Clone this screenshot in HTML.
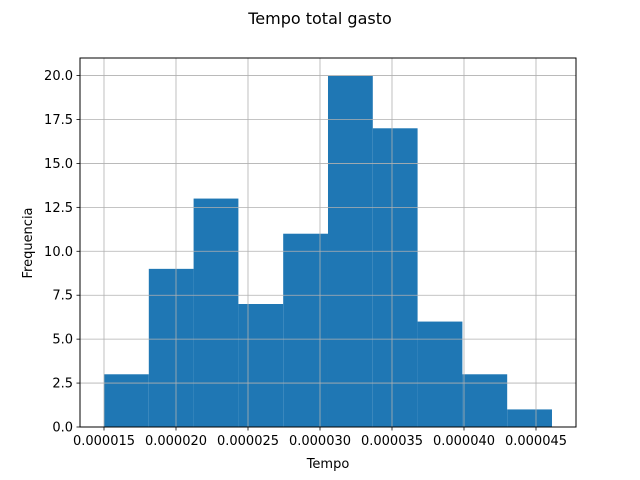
<!DOCTYPE html>
<html><head><meta charset="utf-8"><style>
body{margin:0;background:#fff}
svg{display:block;font-family:"DejaVu Sans","Liberation Sans",sans-serif}
</style></head><body>
<svg id="chart" width="640" height="480" xmlns="http://www.w3.org/2000/svg">
<rect width="640" height="480" fill="#fff"/>
<text x="320" y="24" font-size="16" text-anchor="middle">Tempo total gasto</text>
<text x="328" y="468" font-size="13" text-anchor="middle">Tempo</text>
<text x="32" y="243" font-size="13" text-anchor="middle" transform="rotate(-90 32 243)">Frequencia</text>
<g id="bars"></g><g id="grid"></g><g id="axes"></g>
</svg>
<script>
const binStart = 0.000015;
const binEnd = 0.00004611;
const counts = [3, 9, 13, 7, 11, 20, 17, 6, 3, 1];
const xTicks = [0.000015, 0.000020, 0.000025, 0.000030, 0.000035, 0.000040, 0.000045];
const xTickLabels = ["0.000015","0.000020","0.000025","0.000030","0.000035","0.000040","0.000045"];
const yTicks = [0, 2.5, 5, 7.5, 10, 12.5, 15, 17.5, 20];
const yTickLabels = ["0.0","2.5","5.0","7.5","10.0","12.5","15.0","17.5","20.0"];

const L=80,R=576,T=58,B=427;
const x = v => 104 + (v-0.000015)/0.000005*72;
const y = v => B - v/21*(B-T);
const NS="http://www.w3.org/2000/svg";
function mk(tag, attrs, parent){const e=document.createElementNS(NS,tag);for(const k in attrs)e.setAttribute(k,attrs[k]);parent.appendChild(e);return e;}
const bars=document.getElementById('bars'),grid=document.getElementById('grid'),axes=document.getElementById('axes');
const w=(binEnd-binStart)/counts.length;
counts.forEach((c,i)=>{
  const x0=x(binStart+i*w),x1=x(binStart+(i+1)*w);
  const r=mk('rect',{x:x0,y:y(c),width:x1-x0,height:B-y(c),fill:'#1f77b4'},bars);
  
  
});
xTicks.forEach((t,i)=>{
  const px=x(t);
  const g=mk('line',{x1:px,x2:px,y1:T,y2:B,stroke:'#b0b0b0','stroke-width':0.8},grid);
  
  
  mk('line',{x1:px,x2:px,y1:B,y2:B+3.5,stroke:'#000','stroke-width':0.8},axes);
  const tx=mk('text',{x:px,y:B+18,'font-size':13,'text-anchor':'middle'},axes);
  tx.textContent=xTickLabels[i];
  
  
});
yTicks.forEach((t,i)=>{
  const py=y(t);
  const g=mk('line',{x1:L,x2:R,y1:py,y2:py,stroke:'#b0b0b0','stroke-width':0.8},grid);
  
  
  mk('line',{x1:L-3.5,x2:L,y1:py,y2:py,stroke:'#000','stroke-width':0.8},axes);
  const tx=mk('text',{x:L-7,y:py+4.5,'font-size':13,'text-anchor':'end'},axes);
  tx.textContent=yTickLabels[i];
  
  
});
const fr=mk('rect',{x:L,y:T,width:R-L,height:B-T,fill:'none',stroke:'#000','stroke-width':1},axes);


</script>
</body></html>
